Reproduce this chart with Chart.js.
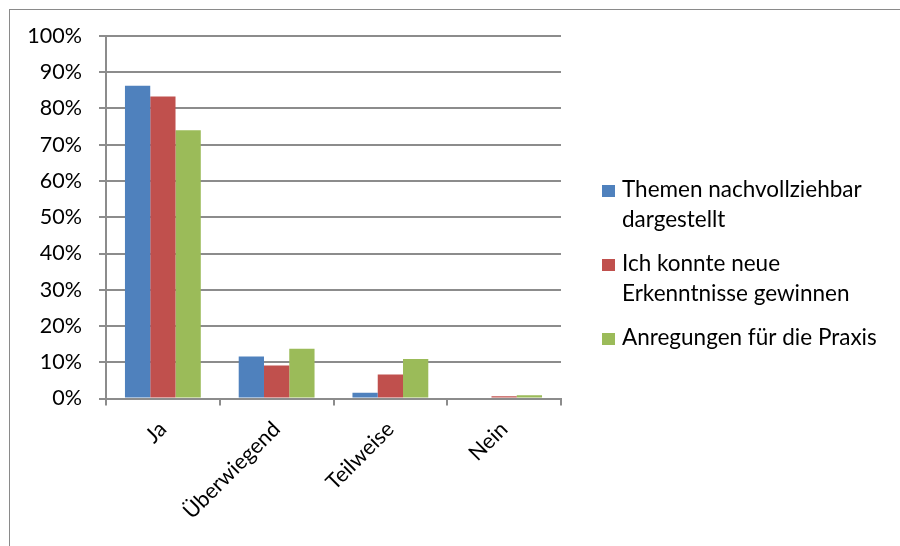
<!DOCTYPE html>
<html><head><meta charset="utf-8">
<script src="https://cdn.jsdelivr.net/npm/chart.js@4.4.1/dist/chart.umd.min.js"></script>
<style>html,body{margin:0;padding:0;background:#fff;}#wrap{width:900px;height:546px;position:relative;}</style>
</head><body><div id="wrap"><canvas id="c" width="900" height="546"></canvas></div>
<script>
const categories = ["Ja", "Überwiegend", "Teilweise", "Nein"];
const seriesLines = [["Themen nachvollziehbar", "dargestellt"], ["Ich konnte neue", "Erkenntnisse gewinnen"], ["Anregungen für die Praxis"]];
const themenValues = [86.3, 11.6, 1.6, 0];
const erkenntnisseValues = [83.3, 9.1, 6.6, 0.6];
const praxisValues = [74.0, 13.7, 10.9, 0.9];
const seriesColors = ["#4F81BD", "#C0504D", "#9BBB59"];
const yTicks = [0, 10, 20, 30, 40, 50, 60, 70, 80, 90, 100];

const FONT = "Lato, 'Open Sans', sans-serif";
const gridColor = "#8c8c8c";

const frame = {
  id: 'frame',
  beforeDraw(chart) {
    const ctx = chart.ctx;
    ctx.save();
    ctx.fillStyle = '#fff';
    ctx.fillRect(0, 0, chart.width, chart.height);
    ctx.strokeStyle = '#8a8a8a';
    ctx.lineWidth = 1;
    ctx.strokeRect(9.5, 9.5, 1000, 1000);
    ctx.restore();
  }
};

const customLegend = {
  id: 'customLegend',
  afterDraw(chart) {
    const ctx = chart.ctx;
    ctx.save();
    ctx.font = "22.5px " + FONT;
    ctx.textBaseline = 'alphabetic';
    ctx.textAlign = 'left';
    let y = 197;
    chart.data.datasets.forEach((ds, i) => {
      ctx.fillStyle = ds.backgroundColor;
      ctx.fillRect(602, y - 12, 13, 12);
      ctx.fillStyle = '#000';
      seriesLines[i].forEach((line, j) => {
        ctx.fillText(line, 622, y + j * 29.5);
      });
      y += (seriesLines[i].length - 1) * 29.5 + 44.5;
    });
    ctx.restore();
  }
};

new Chart(document.getElementById('c'), {
  type: 'bar',
  data: {
    labels: categories,
    datasets: [
      { label: seriesLines[0].join(' '), data: themenValues, backgroundColor: seriesColors[0] },
      { label: seriesLines[1].join(' '), data: erkenntnisseValues, backgroundColor: seriesColors[1] },
      { label: seriesLines[2].join(' '), data: praxisValues, backgroundColor: seriesColors[2] }
    ]
  },
  options: {
    responsive: false,
    animation: false,
    devicePixelRatio: 1,
    layout: { padding: { left: 0, right: 339, top: 36, bottom: 0 } },
    datasets: { bar: { categoryPercentage: 3 / 4.5, barPercentage: 1 } },
    plugins: { legend: { display: false }, tooltip: { enabled: false } },
    scales: {
      y: {
        min: 0, max: 100,
        afterFit(s) { s.width = 106; },
        afterBuildTicks(s) { s.ticks = yTicks.map(v => ({ value: v })); },
        ticks: { callback: v => v + '%', font: { family: FONT, size: 21.5 }, color: '#000', padding: 17 },
        grid: { color: gridColor, lineWidth: 2, tickLength: 7, drawTicks: true },
        border: { color: gridColor, width: 2 }
      },
      x: {
        afterFit(s) { s.height = 147.5; },
        offset: true,
        ticks: { font: { family: FONT, size: 21.5 }, color: '#000', minRotation: 45, maxRotation: 45, padding: 11 },
        grid: { offset: true, drawOnChartArea: false, drawTicks: true, tickLength: 7, color: gridColor, lineWidth: 2 },
        border: { color: gridColor, width: 2 }
      }
    }
  },
  plugins: [frame, customLegend]
});
</script></body></html>
